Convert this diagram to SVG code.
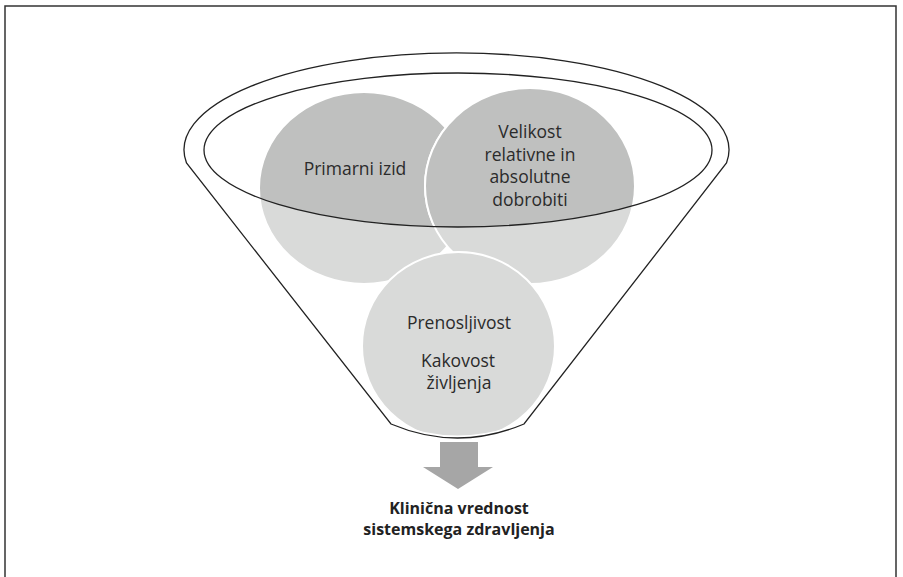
<svg xmlns="http://www.w3.org/2000/svg" width="903" height="577" viewBox="0 0 903 577">
  <style>
    .lbl { font-family: "Open Sans", "Liberation Sans", sans-serif; font-size: 17.5px; fill: #2b2b2b; text-anchor: middle; }
    .bold { font-family: "Open Sans", "Liberation Sans", sans-serif; font-size: 16px; font-weight: bold; fill: #222; text-anchor: middle; }
    .light { fill: #d9dad9; stroke: #ffffff; stroke-width: 2; }
    .dark { fill: #bfc0bf; stroke: #ffffff; stroke-width: 2; }
    .outline { fill: none; stroke: #222; stroke-width: 1.3; }
    .frame { fill: none; stroke: #333; stroke-width: 1.5; }
  </style>
  <defs>
    <path id="funnelPath" d="M 186.5,163 A 272.5 97 0 1 1 726.5,163 L 524,424 Q 457.5,452 391,424 Z"/>
    <clipPath id="funnelClip">
      <use href="#funnelPath"/>
    </clipPath>
    <clipPath id="innerClip">
      <ellipse cx="458" cy="150" rx="254" ry="77"/>
    </clipPath>
  </defs>

  <rect width="903" height="577" fill="#ffffff"/>
  <polyline class="frame" points="5,577 5,6 896,6 896,577"/>

  <g id="nodes" clip-path="url(#funnelClip)">
    <g id="node-primarni">
      <ellipse class="light" cx="364" cy="188" rx="105" ry="96"/>
      <ellipse class="dark" cx="364" cy="188" rx="105" ry="96" clip-path="url(#innerClip)"/>
    </g>
    <g id="node-velikost">
      <ellipse class="light" cx="530" cy="186" rx="105" ry="98"/>
      <ellipse class="dark" cx="530" cy="186" rx="105" ry="98" clip-path="url(#innerClip)"/>
    </g>
    <g id="node-prenosljivost">
      <ellipse class="light" cx="458.5" cy="346" rx="96.5" ry="94"/>
    </g>
  </g>

  <g id="funnel">
    <use href="#funnelPath" fill="none" stroke="#ffffff" stroke-width="5"/>
    <use href="#funnelPath" class="outline"/>
    <ellipse class="outline" cx="458" cy="150" rx="254" ry="77"/>
  </g>

  <g id="labels">
    <text class="lbl" x="355" y="175">Primarni izid</text>
    <text class="lbl" x="530" y="138">Velikost</text>
    <text class="lbl" x="530" y="160.5">relativne in</text>
    <text class="lbl" x="530" y="183">absolutne</text>
    <text class="lbl" x="530" y="205.5">dobrobiti</text>
    <text class="lbl" x="459" y="329">Prenosljivost</text>
    <text class="lbl" x="458" y="367">Kakovost</text>
    <text class="lbl" x="459" y="389">življenja</text>
  </g>

  <g id="connectors">
    <polygon points="440,442 478,442 478,467 493,467 458,489 423,467 440,467" fill="#a6a6a6"/>
  </g>

  <g id="node-result">
    <text class="bold" x="459" y="514">Klinična vrednost</text>
    <text class="bold" x="459" y="535">sistemskega zdravljenja</text>
  </g>
</svg>
